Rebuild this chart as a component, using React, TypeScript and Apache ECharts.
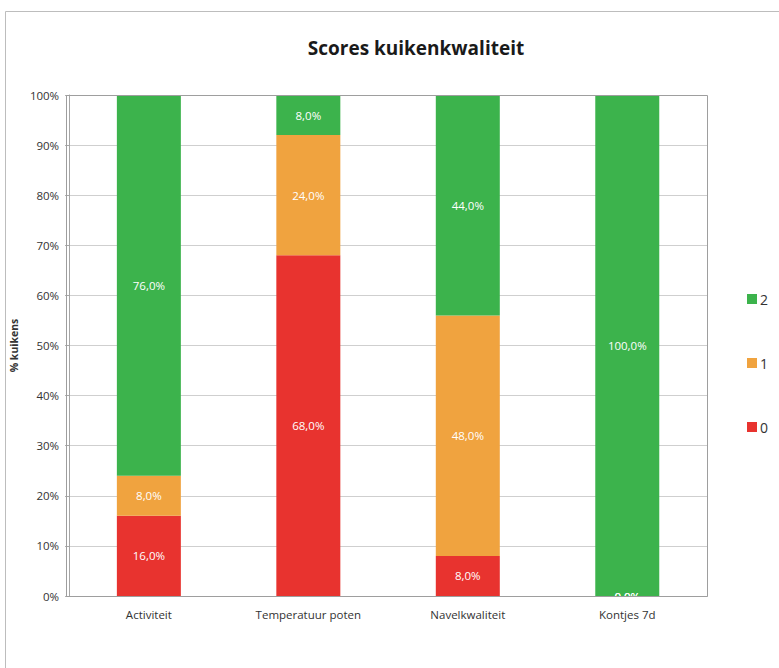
import React, { useEffect, useRef } from "react";
import * as echarts from "echarts";

const categories = ["Activiteit", "Temperatuur poten", "Navelkwaliteit", "Kontjes 7d"];
const score0 = [16, 68, 8, 0];
const score1 = [8, 24, 48, 0];
const score2 = [76, 8, 44, 100];
const seriesNames = ["0", "1", "2"];
const colors = ["#e8332f", "#f0a33f", "#3cb34c"];

const fmt = (v: number) => v.toFixed(1).replace(".", ",") + "%";

export default function App() {
  const ref = useRef<HTMLDivElement>(null);
  useEffect(() => {
    document.body.style.margin = "0";
    const chart = echarts.init(ref.current!, null, { renderer: "svg" });
    const font = "'Open Sans', 'Noto Sans', sans-serif";
    const data = [score0, score1, score2];
    chart.setOption({
      animation: false,
      backgroundColor: "#ffffff",
      textStyle: { fontFamily: font },
      title: {
        text: "Scores kuikenkwaliteit",
        left: 411,
        textAlign: "center",
        top: 33,
        textStyle: { fontSize: 19, fontWeight: "bold", color: "#1a1a1a", fontFamily: font },
      },
      graphic: [
        {
          type: "rect",
          shape: { x: 5.5, y: 11.5, width: 900, height: 800 },
          style: { fill: "none", stroke: "#bdbdbd", lineWidth: 1 },
          silent: true,
          z: -1,
        },
        {
          type: "rect",
          shape: { x: 66.5, y: 95.5, width: 641, height: 501 },
          style: { fill: "none", stroke: "#9e9e9e", lineWidth: 1 },
          silent: true,
          z: 10,
        },
      ],
      legend: {
        orient: "vertical",
        left: 742,
        top: 287,
        itemGap: 50,
        itemWidth: 10,
        itemHeight: 10,
        data: ["2", "1", "0"],
        textStyle: { fontSize: 14, color: "#333", padding: [0, 0, 0, -2] },
        icon: "rect",
      },
      grid: { left: 66, right: 72, top: 95, bottom: 72 },
      xAxis: {
        type: "category",
        data: categories,
        axisTick: { show: false },
        axisLine: { lineStyle: { color: "#a6a6a6" } },
        axisLabel: { color: "#333", fontSize: 11.5, margin: 12 },
      },
      yAxis: {
        type: "value",
        min: 0,
        max: 100,
        interval: 10,
        name: "% kuikens",
        nameLocation: "middle",
        nameGap: 45,
        nameRotate: 90,
        nameTextStyle: { fontSize: 10.5, fontWeight: "bold", color: "#333" },
        axisLine: { show: true, lineStyle: { color: "#a6a6a6" } },
        axisTick: { show: true, length: 4, lineStyle: { color: "#a6a6a6" } },
        axisLabel: { formatter: (v: number) => v + "%", color: "#333", fontSize: 11.5, margin: 10 },
        splitLine: { lineStyle: { color: "#cfcfcf" } },
      },
      series: seriesNames.map((n, i) => ({
        name: n,
        type: "bar",
        stack: "total",
        barWidth: 64,
        data: data[i],
        itemStyle: { color: colors[i] },
        label: {
          show: true,
          position: "inside",
          color: "#ffffff",
          fontSize: 11.5,
          formatter: (p: any) => fmt(p.value),
        },
      })),
    });
    return () => chart.dispose();
  }, []);
  return <div ref={ref} style={{ width: 779, height: 668 }} />;
}
